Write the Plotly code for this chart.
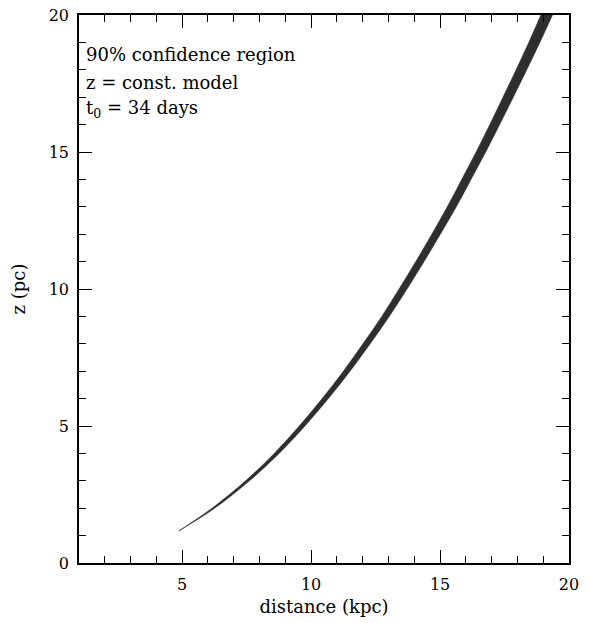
import plotly.graph_objects as go

# Band of the 90% confidence region: z (pc) vs distance (kpc), edges
z_pc = [1.17, 2, 3, 4, 5, 6, 7, 8, 9, 10, 11, 12, 13, 14, 15, 16, 17, 18, 19, 20]
d_left = [4.87, 6.16, 7.46, 8.57, 9.54, 10.43, 11.25, 12.01, 12.74, 13.41,
          14.06, 14.68, 15.28, 15.84, 16.40, 16.93, 17.44, 17.95, 18.44, 18.91]
d_right = [4.87, 6.26, 7.61, 8.76, 9.76, 10.67, 11.51, 12.29, 13.03, 13.72,
           14.38, 15.01, 15.63, 16.20, 16.77, 17.31, 17.84, 18.36, 18.87, 19.36]

x_ticks = [5, 10, 15, 20]
y_ticks = [0, 5, 10, 15, 20]

labels = ["90% confidence region", "z = const. model", "t<sub>0</sub> = 34 days"]

FONT = "DejaVu Serif"
BAND = "#2e2e2e"

fig = go.Figure()
fig.add_trace(go.Scatter(
    x=d_left, y=z_pc, mode="lines",
    line=dict(color=BAND, width=0.6, shape="spline", smoothing=1.0),
    hoverinfo="skip", showlegend=False,
))
fig.add_trace(go.Scatter(
    x=d_right, y=z_pc, mode="lines",
    line=dict(color=BAND, width=0.6, shape="spline", smoothing=1.0),
    fill="tonextx", fillcolor=BAND,
    hoverinfo="skip", showlegend=False,
))

axis_common = dict(
    showgrid=False, zeroline=False, showline=True, linecolor="black", linewidth=1.5,
    mirror="allticks", ticks="inside", ticklen=13, tickwidth=1.2, tickcolor="black",
    minor=dict(ticks="inside", ticklen=7, tickwidth=1.2, tickcolor="black", dtick=1),
    tickfont=dict(family=FONT, size=16, color="black"),
    ticklabeloverflow="allow",
    automargin=False,
)

fig.update_xaxes(range=[1, 20], tickvals=x_ticks, ticklabelstandoff=6,
                 title=dict(text="distance (kpc)", font=dict(family=FONT, size=18, color="black"), standoff=7),
                 **axis_common)
fig.update_yaxes(range=[0, 20], tickvals=y_ticks, ticklabelstandoff=5,
                 title=dict(text="z (pc)", font=dict(family=FONT, size=18, color="black"), standoff=21),
                 **axis_common)

ys = [0.928, 0.876, 0.828]
for t, yy in zip(labels, ys):
    fig.add_annotation(text=t, xref="paper", yref="paper", x=0.01, y=yy,
                       xanchor="left", yanchor="middle", showarrow=False,
                       font=dict(family=FONT, size=18, color="black"))

# the page body adds an 8 px margin, so the figure is offset to line up with the window
fig.update_layout(
    width=574, height=615,
    margin=dict(l=71, r=13, t=7, b=60),
    paper_bgcolor="white", plot_bgcolor="white",
)

fig.write_html("out.html")
